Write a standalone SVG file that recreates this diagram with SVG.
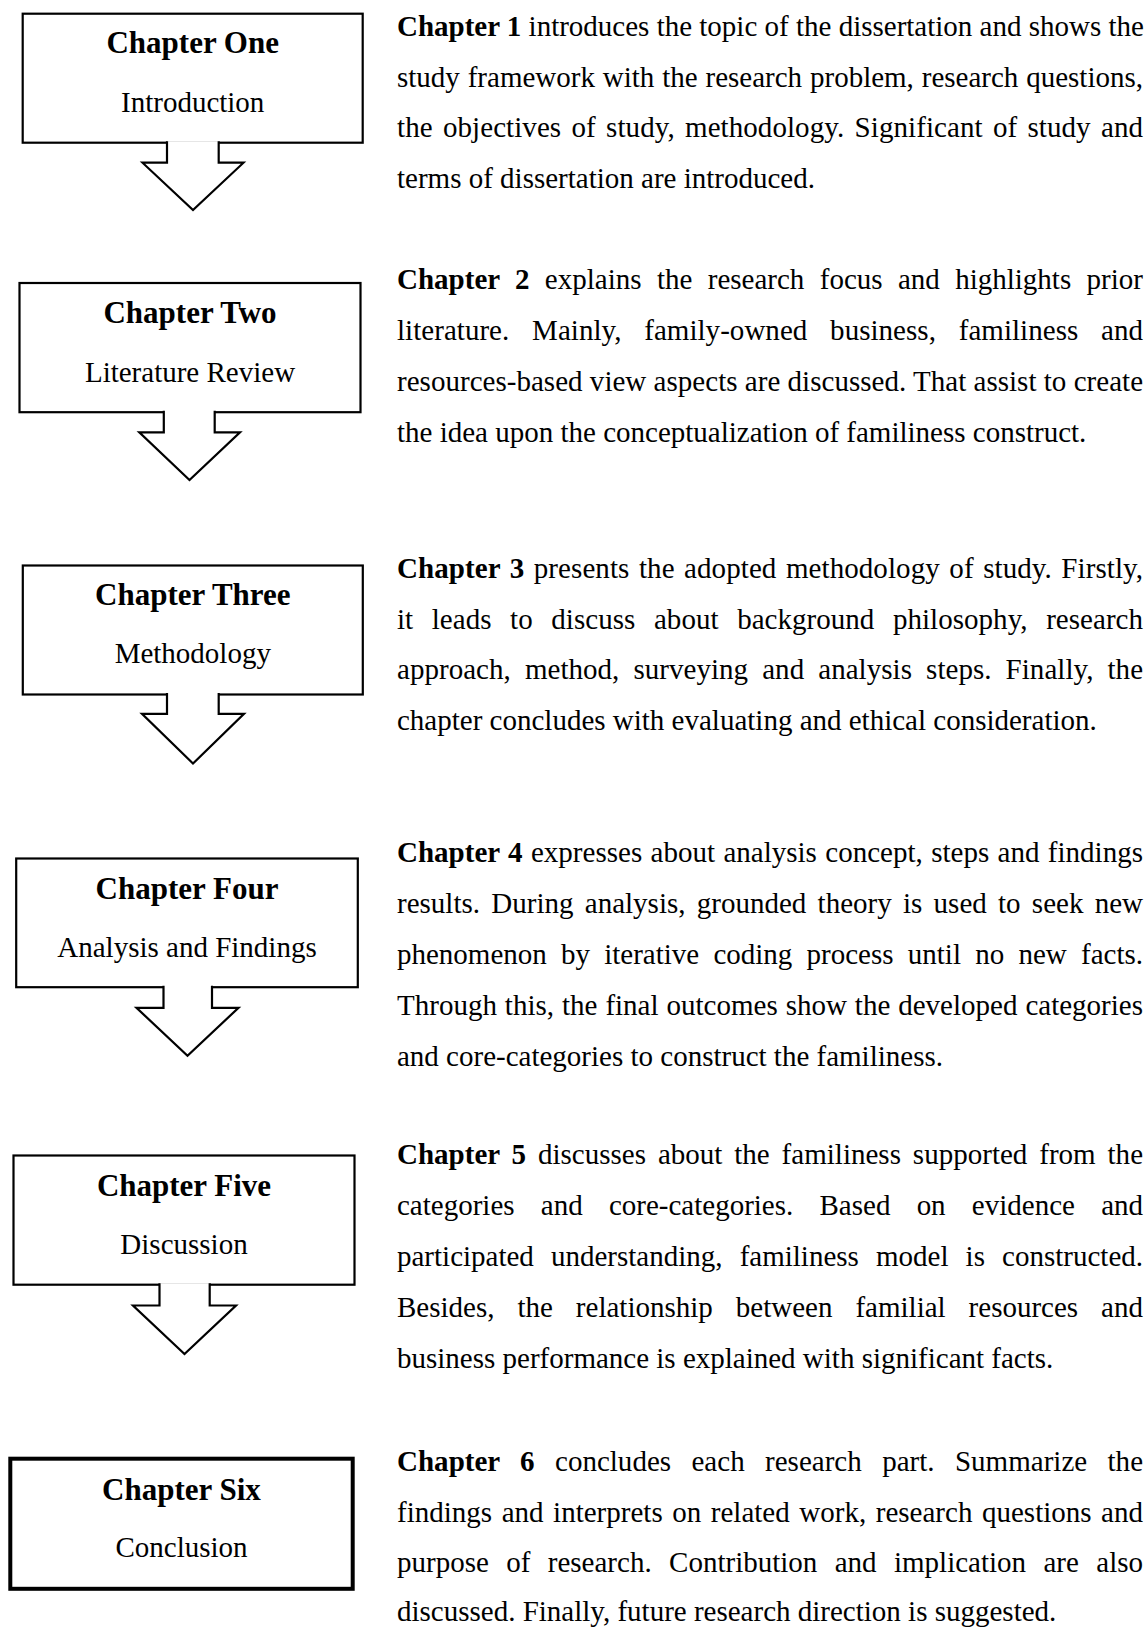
<svg xmlns="http://www.w3.org/2000/svg" width="1148" height="1627" viewBox="0 0 1148 1627">
  <style>
    text { font-family: "Liberation Serif", "Times New Roman", serif; fill: #000; }
    .title { font-size: 31px; font-weight: bold; text-anchor: middle; }
    .sub { font-size: 29px; text-anchor: middle; }
    .desc { font-size: 29px; }
    .b { font-weight: bold; }
    .box { fill: #fff; stroke: #000; stroke-width: 2.2; }
    .box-end { fill: #fff; stroke: #000; stroke-width: 4; }
    .arrow { fill: #fff; stroke: #000; stroke-width: 2.2; stroke-linejoin: miter; }
  </style>

  <rect width="1148" height="1627" fill="#fff"/>

  <!-- chapter boxes with their summaries -->
  <g id="ch1">
    <rect class="box" x="22.7" y="13.7" width="340" height="129"/>
    <text class="title" x="192.7" y="52.5">Chapter One</text>
    <text class="sub" x="192.7" y="111.5">Introduction</text>
    <g class="desc-block">
      <text class="desc" x="397" y="36"><tspan class="b">Chapter 1</tspan> introduces the topic of the dissertation and shows the</text>
      <text class="desc" x="397" y="86.5" word-spacing="0.6" textLength="746" lengthAdjust="spacing">study framework with the research problem, research questions,</text>
      <text class="desc" x="397" y="137" word-spacing="3" textLength="746" lengthAdjust="spacing">the objectives of study, methodology. Significant of study and</text>
      <text class="desc" x="397" y="187.5">terms of dissertation are introduced.</text>
    </g>
  </g>

  <g id="ch2">
    <rect class="box" x="19.5" y="283" width="341" height="129.2"/>
    <text class="title" x="190" y="323.3">Chapter Two</text>
    <text class="sub" x="190" y="381.7">Literature Review</text>
    <g class="desc-block">
      <text class="desc" x="397" y="289" word-spacing="8.1" textLength="746" lengthAdjust="spacing"><tspan class="b">Chapter 2</tspan> explains the research focus and highlights prior</text>
      <text class="desc" x="397" y="340" word-spacing="15.5" textLength="746" lengthAdjust="spacing">literature. Mainly, family-owned business, familiness and</text>
      <text class="desc" x="397" y="390.5" textLength="746" lengthAdjust="spacing">resources-based view aspects are discussed. That assist to create</text>
      <text class="desc" x="397" y="441.5">the idea upon the conceptualization of familiness construct.</text>
    </g>
  </g>

  <g id="ch3">
    <rect class="box" x="22.8" y="565.5" width="340" height="129"/>
    <text class="title" x="192.8" y="605">Chapter Three</text>
    <text class="sub" x="192.8" y="663.3">Methodology</text>
    <g class="desc-block">
      <text class="desc" x="397" y="577.5" word-spacing="2.2" textLength="746" lengthAdjust="spacing"><tspan class="b">Chapter 3</tspan> presents the adopted methodology of study. Firstly,</text>
      <text class="desc" x="397" y="628.5" word-spacing="11.3" textLength="746" lengthAdjust="spacing">it leads to discuss about background philosophy, research</text>
      <text class="desc" x="397" y="679" word-spacing="6.8" textLength="746" lengthAdjust="spacing">approach, method, surveying and analysis steps. Finally, the</text>
      <text class="desc" x="397" y="729.5">chapter concludes with evaluating and ethical consideration.</text>
    </g>
  </g>

  <g id="ch4">
    <rect class="box" x="16.2" y="858.5" width="341.6" height="128.7"/>
    <text class="title" x="187" y="899">Chapter Four</text>
    <text class="sub" x="187" y="956.7">Analysis and Findings</text>
    <g class="desc-block">
      <text class="desc" x="397" y="861.5" word-spacing="1.1" textLength="746" lengthAdjust="spacing"><tspan class="b">Chapter 4</tspan> expresses about analysis concept, steps and findings</text>
      <text class="desc" x="397" y="912.5" word-spacing="4" textLength="746" lengthAdjust="spacing">results. During analysis, grounded theory is used to seek new</text>
      <text class="desc" x="397" y="963.5" word-spacing="7" textLength="746" lengthAdjust="spacing">phenomenon by iterative coding process until no new facts.</text>
      <text class="desc" x="397" y="1014.5" word-spacing="0.7" textLength="746" lengthAdjust="spacing">Through this, the final outcomes show the developed categories</text>
      <text class="desc" x="397" y="1065.5">and core-categories to construct the familiness.</text>
    </g>
  </g>

  <g id="ch5">
    <rect class="box" x="13.5" y="1155.5" width="341" height="129.2"/>
    <text class="title" x="184" y="1195.7">Chapter Five</text>
    <text class="sub" x="184" y="1254">Discussion</text>
    <g class="desc-block">
      <text class="desc" x="397" y="1164" word-spacing="4.6" textLength="746" lengthAdjust="spacing"><tspan class="b">Chapter 5</tspan> discusses about the familiness supported from the</text>
      <text class="desc" x="397" y="1215" word-spacing="19" textLength="746" lengthAdjust="spacing">categories and core-categories. Based on evidence and</text>
      <text class="desc" x="397" y="1266" word-spacing="9.9" textLength="746" lengthAdjust="spacing">participated understanding, familiness model is constructed.</text>
      <text class="desc" x="397" y="1317" word-spacing="15.7" textLength="746" lengthAdjust="spacing">Besides, the relationship between familial resources and</text>
      <text class="desc" x="397" y="1368">business performance is explained with significant facts.</text>
    </g>
  </g>

  <g id="ch6">
    <rect class="box-end" x="10.3" y="1458.7" width="342.4" height="130.1"/>
    <text class="title" x="181.5" y="1500">Chapter Six</text>
    <text class="sub" x="181.5" y="1556.7">Conclusion</text>
    <g class="desc-block">
      <text class="desc" x="397" y="1471" word-spacing="13.1" textLength="746" lengthAdjust="spacing"><tspan class="b">Chapter 6</tspan> concludes each research part. Summarize the</text>
      <text class="desc" x="397" y="1521.5" word-spacing="2.3" textLength="746" lengthAdjust="spacing">findings and interprets on related work, research questions and</text>
      <text class="desc" x="397" y="1572" word-spacing="10.1" textLength="746" lengthAdjust="spacing">purpose of research. Contribution and implication are also</text>
      <text class="desc" x="397" y="1621">discussed. Finally, future research direction is suggested.</text>
    </g>
  </g>

  <!-- block arrows leading from each chapter box to the next; the white fill
       opens the box's bottom edge between the stem walls -->
  <g id="connectors">
    <path class="arrow" d="M167,141.3 V162.7 H142.5 L193,210 L243.5,162.7 H218.7 V141.3"/>
    <path class="arrow" d="M163.8,410.8 V432.3 H139.3 L189.5,480 L240,432.3 H214.7 V410.8"/>
    <path class="arrow" d="M167,693.1 V713.8 H142 L193,763.5 L244,713.8 H218.7 V693.1"/>
    <path class="arrow" d="M163.5,985.8 V1007.8 H136.5 L187.5,1055.8 L238.5,1007.8 H212 V985.8"/>
    <path class="arrow" d="M159.5,1283.3 V1305.5 H133 L184.5,1354 L236,1305.5 H209.7 V1283.3"/>
  </g>
</svg>
